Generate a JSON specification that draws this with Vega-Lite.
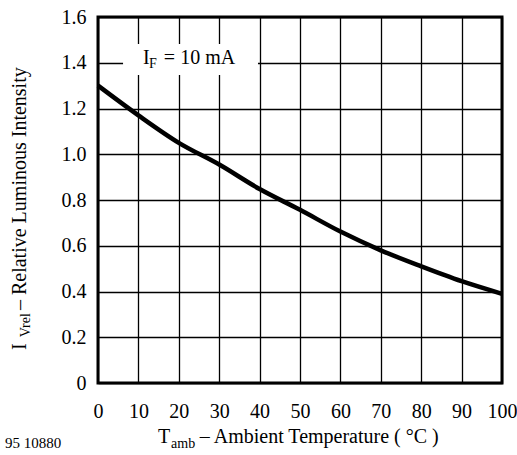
{
  "$schema": "https://vega.github.io/schema/vega-lite/v6.json",
  "width": 404,
  "height": 366,
  "autosize": {"type": "none"},
  "padding": {"left": 98, "top": 17, "right": 15, "bottom": 72},
  "background": "white",
  "config": {
    "view": {"stroke": "black", "strokeWidth": 3},
    "font": "Liberation Serif",
    "axis": {
      "grid": true, "gridColor": "black", "gridWidth": 1.3, "gridOpacity": 1,
      "ticks": false, "domain": false,
      "labelFont": "Liberation Serif", "labelFontSize": 20, "labelColor": "black", "labelFontWeight": "normal",
      "labelFlush": false, "labelOverlap": false,
      "title": null
    }
  },
  "datasets": {
    "curve": [
      {"x": 0, "y": 1.30}, {"x": 10, "y": 1.17}, {"x": 20, "y": 1.05}, {"x": 30, "y": 0.955},
      {"x": 40, "y": 0.848}, {"x": 50, "y": 0.757}, {"x": 60, "y": 0.662}, {"x": 70, "y": 0.58},
      {"x": 80, "y": 0.51}, {"x": 90, "y": 0.445}, {"x": 100, "y": 0.39}
    ],
    "box": [{"x": 6.2, "x2": 39.6, "y": 1.346, "y2": 1.482}],
    "main": [
      {"x": 11.14, "y": 1.395, "t": "I"},
      {"x": 16.3, "y": 1.395, "t": "= 10 mA"},
      {"x": 14.85, "y": -0.262, "t": "T"},
      {"x": 25.2, "y": -0.262, "t": "– Ambient Temperature ( °C )"}
    ],
    "sub": [
      {"x": 12.6, "y": 1.377, "t": "F"},
      {"x": 18.1, "y": -0.284, "t": "amb"}
    ],
    "ymain": [
      {"x": -17.8, "y": 0.144, "t": "I"},
      {"x": -17.8, "y": 0.319, "t": "– Relative Luminous Intensity"}
    ],
    "ysub": [
      {"x": -16.9, "y": 0.2, "t": "Vrel"}
    ],
    "note": [
      {"x": -23.0, "y": -0.284, "t": "95 10880"}
    ]
  },
  "encoding": {
    "x": {"field": "x", "type": "quantitative",
          "scale": {"domain": [0, 100], "nice": false, "zero": false},
          "axis": {"values": [0,10,20,30,40,50,60,70,80,90,100], "labelPadding": 18,
                   "labelFont": "Liberation Serif", "labelFontSize": 20, "labelFlush": false}},
    "y": {"field": "y", "type": "quantitative",
          "scale": {"domain": [0, 1.6], "nice": false, "zero": false},
          "axis": {"values": [0,0.2,0.4,0.6,0.8,1.0,1.2,1.4,1.6], "labelPadding": 12,
                   "labelFont": "Liberation Serif", "labelFontSize": 20, "labelFlush": false,
                   "labelExpr": "datum.value == 0 ? '0' : format(datum.value, '.1f')"}}
  },
  "layer": [
    {"data": {"name": "box"}, "mark": {"type": "rect", "fill": "white"},
     "encoding": {"x2": {"field": "x2"}, "y2": {"field": "y2"}}},
    {"data": {"name": "curve"}, "mark": {"type": "line", "color": "black", "strokeWidth": 4.5, "interpolate": "monotone"}},
    {"data": {"name": "main"}, "mark": {"type": "text", "align": "left", "baseline": "alphabetic", "fontSize": 20, "color": "black", "font": "Liberation Serif"},
     "encoding": {"text": {"field": "t"}}},
    {"data": {"name": "sub"}, "mark": {"type": "text", "align": "left", "baseline": "alphabetic", "fontSize": 14, "color": "black", "font": "Liberation Serif"},
     "encoding": {"text": {"field": "t"}}},
    {"data": {"name": "ymain"}, "mark": {"type": "text", "align": "left", "baseline": "alphabetic", "angle": 270, "fontSize": 20, "color": "black", "font": "Liberation Serif"},
     "encoding": {"text": {"field": "t"}}},
    {"data": {"name": "ysub"}, "mark": {"type": "text", "align": "left", "baseline": "alphabetic", "angle": 270, "fontSize": 14, "color": "black", "font": "Liberation Serif"},
     "encoding": {"text": {"field": "t"}}},
    {"data": {"name": "note"}, "mark": {"type": "text", "align": "left", "baseline": "alphabetic", "fontSize": 15, "color": "black", "font": "Liberation Serif"},
     "encoding": {"text": {"field": "t"}}}
  ]
}
